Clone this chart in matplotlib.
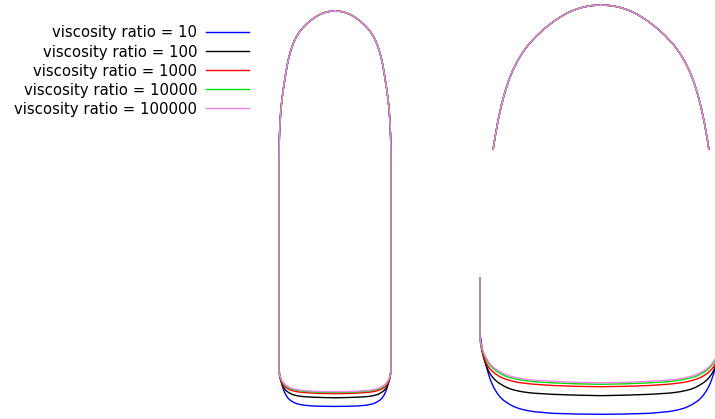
import numpy as np
import matplotlib
matplotlib.use("Agg")
import matplotlib.pyplot as plt

# bubble half-width = 1, z = 0 at the nose tip, z negative downwards
nose_r = [0.0, 0.079, 0.111, 0.156, 0.205, 0.244, 0.286, 0.337, 0.383, 0.436,
          0.484, 0.537, 0.593, 0.646, 0.689, 0.729, 0.765, 0.797, 0.826, 0.852,
          0.877, 0.90, 0.924, 0.95, 0.969, 0.982, 0.993, 0.998, 1.0]
nose_z = [0.0, -0.005, -0.01, -0.02, -0.035, -0.05, -0.07, -0.1, -0.13, -0.17,
          -0.21, -0.26, -0.32, -0.39, -0.46, -0.54, -0.63, -0.73, -0.84, -0.96,
          -1.1, -1.25, -1.4, -1.6, -1.8, -2.0, -2.25, -2.5, -2.7]

# tail profile, same radial stations for every viscosity ratio
tail_r = [1.0, 0.995, 0.985, 0.97, 0.95, 0.93, 0.915, 0.90, 0.885, 0.87, 0.85,
          0.83, 0.805, 0.78, 0.75, 0.72, 0.685, 0.65, 0.60, 0.55, 0.4, 0.2, 0.0]
tail_z_10 = [-6.364, -6.430, -6.497, -6.571, -6.654, -6.728, -6.773, -6.811,
             -6.842, -6.868, -6.898, -6.922, -6.946, -6.963, -6.982, -6.997,
             -7.011, -7.021, -7.032, -7.040, -7.053, -7.059, -7.061]
tail_z_100 = [-6.406, -6.463, -6.530, -6.596, -6.654, -6.703, -6.728, -6.749,
              -6.767, -6.782, -6.798, -6.811, -6.826, -6.839, -6.851, -6.860,
              -6.868, -6.875, -6.882, -6.887, -6.896, -6.903, -6.907]
tail_z_1000 = [-6.430, -6.480, -6.530, -6.587, -6.633, -6.670, -6.688, -6.703,
               -6.717, -6.728, -6.742, -6.753, -6.764, -6.773, -6.782, -6.790,
               -6.797, -6.802, -6.808, -6.813, -6.823, -6.830, -6.833]
tail_z_10000 = [-6.430, -6.472, -6.513, -6.563, -6.604, -6.637, -6.657, -6.674,
                -6.688, -6.699, -6.713, -6.724, -6.738, -6.749, -6.758, -6.765,
                -6.773, -6.779, -6.786, -6.792, -6.801, -6.809, -6.813]
tail_z_100000 = [-6.430, -6.463, -6.505, -6.550, -6.592, -6.625, -6.645, -6.662,
                 -6.676, -6.687, -6.700, -6.711, -6.725, -6.736, -6.746, -6.753,
                 -6.761, -6.767, -6.774, -6.779, -6.788, -6.797, -6.800]

labels = ["viscosity ratio = 10", "viscosity ratio = 100",
          "viscosity ratio = 1000", "viscosity ratio = 10000",
          "viscosity ratio = 100000"]
tails = [tail_z_10, tail_z_100, tail_z_1000, tail_z_10000, tail_z_100000]
colors = ["#0000ff", "#000000", "#ff0000", "#00dd00", "#ee82ee"]

W, H = 715, 419
fig = plt.figure(figsize=(W / 100, H / 100), dpi=100)


def box(x0, y0, x1, y1):
    # pixel box (top-left origin) -> figure fraction
    return [x0 / W, 1 - y1 / H, (x1 - x0) / W, (y1 - y0) / H]


ax_mid = fig.add_axes(box(270, 0, 400, 419))
ax_top = fig.add_axes(box(470, 0, 715, 150))
ax_bot = fig.add_axes(box(470, 277, 715, 419))

handles = []
for tz, c, lab in zip(tails, colors, labels):
    r_half = np.concatenate([nose_r, tail_r])
    z_half = np.concatenate([nose_z, tz])
    x = np.concatenate([-r_half, r_half[::-1]])
    z = np.concatenate([z_half, z_half[::-1]])
    for ax in (ax_mid, ax_top, ax_bot):
        ln, = ax.plot(x, z, color=c, lw=1.0, label=lab,
                      solid_joinstyle="round")
    handles.append(ln)

# middle: 56 px per unit, tip at y=11
ax_mid.set_xlim(-65 / 56, 65 / 56)
ax_mid.set_ylim(-408 / 56, 11 / 56)
# right column: 121 px per unit, centre at x=601
ax_top.set_xlim(-131 / 121, 114 / 121)
ax_top.set_ylim(-145 / 121, 5 / 121)
ax_bot.set_xlim(-131 / 121, 114 / 121)
ax_bot.set_ylim(-7.100, -5.926)
for ax in (ax_mid, ax_top, ax_bot):
    ax.axis("off")

fig.legend(handles, labels, loc="upper right", bbox_to_anchor=(249 / W, 1 - 25.5 / H),
           frameon=False, markerfirst=False, fontsize=10.75, handlelength=2.9,
           handletextpad=0.55, labelspacing=0.27, borderpad=0, borderaxespad=0)

fig.savefig("out.png", dpi=100)
